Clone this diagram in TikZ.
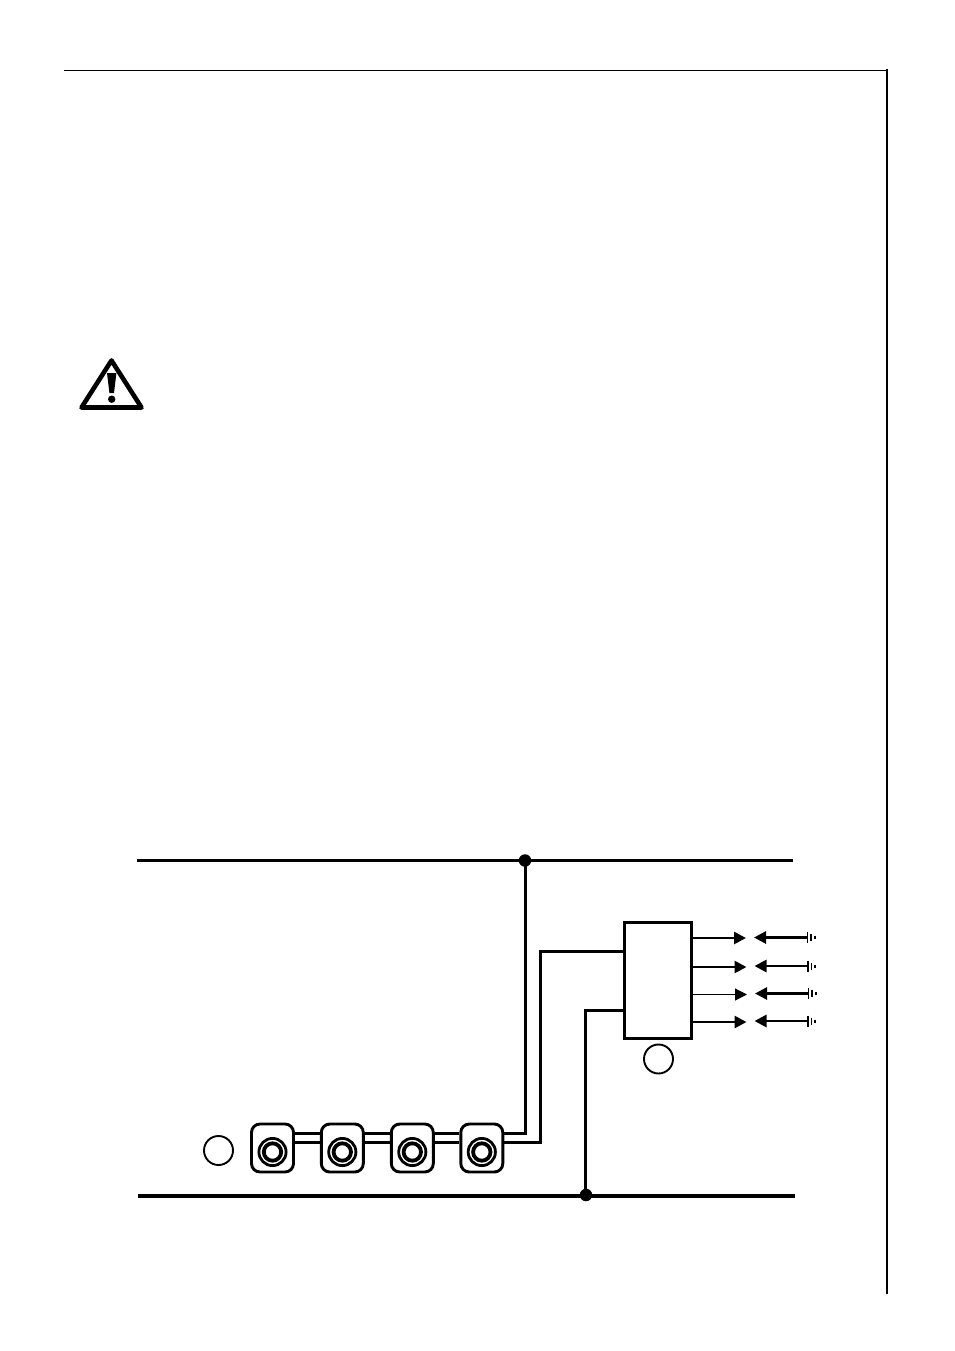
\documentclass[tikz,border=0pt]{standalone}
\usetikzlibrary{arrows.meta}
\tikzset{
  rail/.style={line width=3.2pt},
  wire/.style={line width=3pt},
  joint/.style={circle,fill=black,draw=none,minimum size=12.5pt,inner sep=0pt},
  tag/.style={circle,draw,line width=1.9pt,minimum size=29pt,inner sep=0pt},
  knob/.style={rectangle,rounded corners=8.5pt,draw,line width=2.9pt,minimum width=42pt,minimum height=48pt,inner sep=0pt},
  ringouter/.style={draw,line width=2.8pt},
  ringinner/.style={draw,line width=3.8pt},
  unit/.style={rectangle,draw,line width=3.4pt,minimum width=67pt,minimum height=115.5pt,inner sep=0pt},
  head/.style={-{Triangle[length=12pt,width=12pt]},line width=2.7pt},
  thinhead/.style={-{Triangle[length=12pt,width=12pt]},line width=1.2pt},
  earth/.style={line width=1.8pt}
}
\begin{document}
\begin{tikzpicture}[x=1pt,y=-1pt]
\useasboundingbox (0,0) rectangle (954,1351);
\fill[white] (0,0) rectangle (954,1351);
% page frame
\coordinate (f1) at (64,70.5);
\coordinate (f2) at (887,70.5);
\coordinate (f3) at (887,1294);
\draw[line width=1.2pt] (f1) -- (f2);
\draw[line width=2.8pt] (887,69.5) -- (f3);
% warning sign
\draw[line width=4.6pt,line join=round] (111.5,360.5) -- (141.5,407.5) -- (81.5,407.5) -- cycle;
\fill (107,373) -- (116.4,373) -- (114,393) -- (109.4,393) -- cycle;
\fill (111.7,399.2) circle (3.7pt);
% rails
\coordinate (tl) at (137,860.4);
\coordinate (tr) at (793,860.4);
\coordinate (bl) at (138,1196);
\coordinate (br) at (795,1196);
\draw[rail] (tl) -- (tr);
\draw[rail] (bl) -- (br);
\node[joint] (jt) at (525,860.5) {};
\node[joint] (jb) at (586,1195) {};
% unit and tags
\node[unit] (box) at (658,980.5) {};
\node[tag] (tagb) at (658.5,1059) {};
\node[tag] (taga) at (218.5,1150.5) {};
% knobs
\foreach \n/\x in {1/272.5,2/342.3,3/412.3,4/481.8}{
  \node[knob] (k\n) at (\x,1148) {};
  \draw[ringouter] (\x,1152) circle (13.6pt);
  \draw[ringinner] (\x,1152) circle (8.7pt);
}
% wires
\coordinate (ya) at (0,1133);
\coordinate (yb) at (0,1142);
\coordinate (c1) at (540.5,951);
\coordinate (c2) at (585,1010);
\foreach \p/\q in {k1/k2,k2/k3,k3/k4}{
  \draw[wire] (\p.east |- ya) -- (\q.west |- ya);
  \draw[wire] (\p.east |- yb) -- (\q.west |- yb);
}
\draw[wire,line join=miter] (jt.center) -- (jt.center |- ya) -- (k4.east |- ya);
\draw[wire,line join=miter] (k4.east |- yb) -- (c1 |- yb) -- (c1) -- (box.west |- c1);
\draw[wire,line join=miter] (jb.center -| c2) -- (c2) -- (box.west |- c2);
% outputs
\foreach \n/\y/\yy/\dx/\st in {1/938/937.5/0/head,2/967/966/0.5/head,3/994.5/993.5/1/thinhead,4/1022/1021/0.5/head}{
  \coordinate (t\n) at (746+\dx,\y);
  \coordinate (u\n) at (754+\dx,\yy);
  \coordinate (g\n) at (807.5+\dx,\yy);
  \draw[\st] (box.east |- t\n) -- (t\n);
  \draw[head] (g\n) -- (u\n);
  \draw[earth] (g\n) ++(0,-5.5) -- ++(0,11);
  \draw[earth] (g\n) ++(3.4,-3.5) -- ++(0,7);
  \fill (g\n) ++(6,-1.5) rectangle ++(2.4,3);
}
\end{tikzpicture}
\end{document}
